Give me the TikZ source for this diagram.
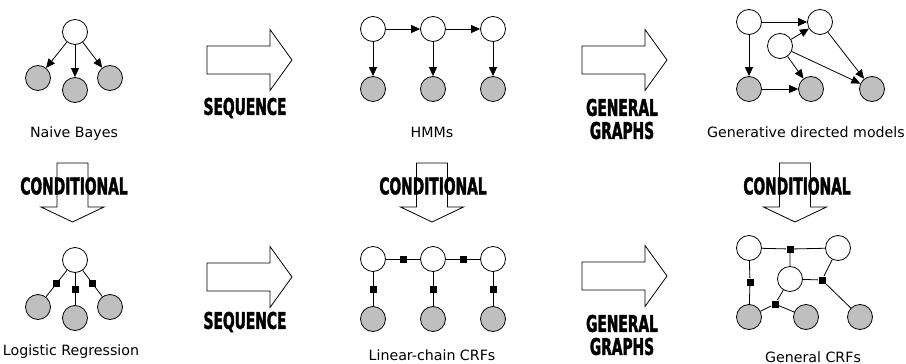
\documentclass[tikz,border=0pt]{standalone}
\usepackage{fontspec}
\setmainfont{DejaVu Sans}
\newfontfamily\tagfont[FakeStretch=0.6,FakeBold=1.6]{DejaVu Sans}
\usetikzlibrary{
        arrows.meta,
        positioning,
        shapes
    }
\tikzset{>={Triangle[length=9pt,width=8pt]},node distance=60pt}
\tikzset{
    latent/.style={circle,draw,fill=white,minimum size=25pt,inner sep=0pt,line width=0.8pt},
    obs/.style={latent,fill=gray!50},
    factor/.style={rectangle,fill=black,minimum size=7pt,inner sep=0pt},
    bigarrow/.style={draw,line width=0.8pt,line join=miter},
    tag/.style={font=\tagfont\bfseries\fontsize{23}{23}\selectfont,align=center,inner sep=0pt},
    caption/.style={font=\fontsize{14.2}{16}\selectfont,anchor=base,inner sep=0pt}
}

\begin{document}
\begin{tikzpicture}[x=1pt,y=-1pt,line width=0.8pt]
    \useasboundingbox (0,0) rectangle (906,364);
    % big hollow arrows
    \foreach \x/\y in {207/60,582/60,207/277,582/276}
        \draw[bigarrow] (\x,\y) ++(0,-14) -- ++(63,0) -- ++(0,-16.5) -- ++(22,30.5)
            -- ++(-22,30.5) -- ++(0,-16.5) -- ++(-63,0) -- cycle;
    \node[tag] (seq1) at (245,108) {SEQUENCE};
    \node[tag] (seq2) at (245,322) {SEQUENCE};
    \node[tag] (gen1) at (622,119) {GENERAL\\GRAPHS};
    \node[tag] (gen2) at (622,335) {GENERAL\\GRAPHS};
    \node[tag] (cond1) at (74,186) {CONDITIONAL};
    \node[tag] (cond2) at (433,186) {CONDITIONAL};
    \node[tag] (cond3) at (797,186) {CONDITIONAL};
    \foreach \x in {72.5,432,795}
        \draw[bigarrow] (\x,163) ++(-15.5,0) -- ++(31,0) -- ++(0,44) -- ++(16,0)
            -- ++(-31.5,15) -- ++(-31.5,-15) -- ++(16,0) -- cycle;

    % naive bayes
    \node[latent] (nby) at (75,32) {};
    \node[obs] (nbx1) at (38,78) {};
    \node[obs] (nbx2) at (75,90) {};
    \node[obs] (nbx3) at (110,78) {};
    \path[->] (nby) edge (nbx1) edge (nbx2) edge (nbx3);
    \node[caption] at (74,137) {Naive Bayes};

    % HMMs
    \node[latent] (hy1) at (373,29) {};
    \node[latent] (hy2) [right of=hy1] {};
    \node[latent] (hy3) [right of=hy2] {};
    \node[obs] (hx1) [below of=hy1] {};
    \node[obs] (hx2) [below of=hy2] {};
    \node[obs] (hx3) [below of=hy3] {};
    \path[->] (hy1) edge (hy2) edge (hx1)
              (hy2) edge (hy3) edge (hx2)
              (hy3) edge (hx3);
    \node[caption] at (432,137) {HMMs};

    % generative directed models
    \node[latent] (ga) at (749,22) {};
    \node[latent] (gb) at (820,22) {};
    \node[latent] (gc) at (780,46) {};
    \node[obs] (gd) at (749,89) {};
    \node[obs] (ge) at (811,89) {};
    \node[obs] (gf) at (872,89) {};
    \path[->] (ga) edge (gb) edge (gd)
              (gc) edge (gb) edge (ge) edge (gf)
              (gb) edge (gf)
              (gd) edge (ge);
    \node[caption] at (806,137) {Generative directed models};

    % logistic regression
    \node[latent] (lry) at (75,260) {};
    \node[obs] (lrx1) at (38,307) {};
    \node[obs] (lrx2) at (75,318) {};
    \node[obs] (lrx3) at (110,307) {};
    \draw (lry) -- node[factor] (lrf1) {} (lrx1);
    \draw (lry) -- node[factor] (lrf2) {} (lrx2);
    \draw (lry) -- node[factor] (lrf3) {} (lrx3);
    \node[caption] at (71,355) {Logistic Regression};

    % linear-chain CRFs
    \node[latent] (cy1) at (373,259) {};
    \node[latent] (cy2) [right of=cy1] {};
    \node[latent] (cy3) [right of=cy2] {};
    \node[obs] (cx1) [below of=cy1] {};
    \node[obs] (cx2) [below of=cy2] {};
    \node[obs] (cx3) [below of=cy3] {};
    \draw (cy1) -- node[factor] (cf1) {} (cy2);
    \draw (cy2) -- node[factor] (cf2) {} (cy3);
    \draw (cy1) -- node[factor] (cf3) {} (cx1);
    \draw (cy2) -- node[factor] (cf4) {} (cx2);
    \draw (cy3) -- node[factor] (cf5) {} (cx3);
    \node[caption] at (432,360) {Linear-chain CRFs};

    % general CRFs
    \node[latent] (ra) at (749,248) {};
    \node[latent] (rb) at (838,248) {};
    \node[latent] (rc) at (790,279) {};
    \node[obs] (rd) at (749,317) {};
    \node[obs] (re) at (806,317) {};
    \node[obs] (rf) at (860,317) {};
    \node[factor] (rf1) at (790,249) {};
    \node[factor] (rf2) at (750,282) {};
    \node[factor] (rf3) at (822,280) {};
    \node[factor] (rf4) at (775,304) {};
    \draw (ra) -- (rf1) -- (rb) (rc) -- (rf1);
    \draw (ra) -- (rf2) -- (rd);
    \draw (rc) -- (rf3) -- (rb) (rf3) -- (rf);
    \draw (rc) -- (rf4) -- (rd) (rf4) -- (re);
    \node[caption] at (813,362) {General CRFs};
\end{tikzpicture}
\end{document}
